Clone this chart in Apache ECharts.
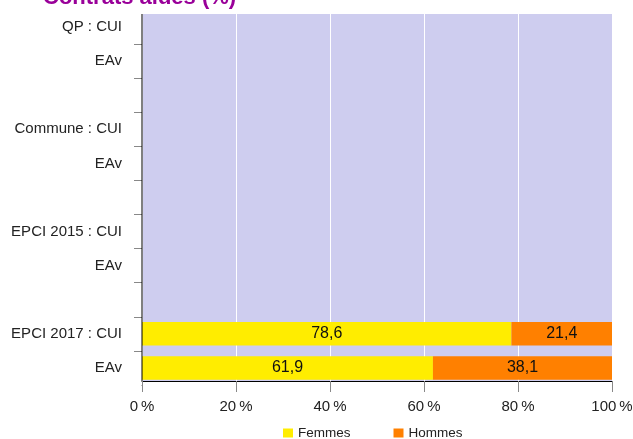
<!DOCTYPE html>
<html>
<head>
<meta charset="utf-8">
<script src="https://cdn.jsdelivr.net/npm/echarts@6/dist/echarts.min.js"></script>
<style>
  html, body { margin: 0; padding: 0; background: #fff; }
  #main { width: 633px; height: 439px; }
</style>
</head>
<body>
<div id="main"></div>
<script>
// categories top to bottom (blank rows separate the groups)
const categories = ['QP : CUI', 'EAv', '', 'Commune : CUI', 'EAv', '', 'EPCI 2015 : CUI', 'EAv', '', 'EPCI 2017 : CUI', 'EAv'];
const femmes = [null, null, null, null, null, null, null, null, null, 78.6, 61.9];
const hommes = [null, null, null, null, null, null, null, null, null, 21.4, 38.1];
const xTicks = [0, 20, 40, 60, 80, 100];

const fmt = (p) => String(p.value).replace('.', ',');
const font = 'Liberation Sans, Arial, sans-serif';

// visible plot box (the category bands overflow it a little at top and bottom)
const plot = { x: 142, y: 14, w: 470, h: 367 };

const chart = echarts.init(document.getElementById('main'), null, { renderer: 'canvas' });
chart.setOption({
  animation: false,
  textStyle: { fontFamily: font },
  title: {
    text: 'Contrats aidés (%)',
    left: 38,
    top: -18,
    textStyle: { color: '#990099', fontSize: 22, fontWeight: 'bold', fontFamily: font }
  },
  grid: { left: 142, right: 21, top: 10, bottom: 54, outerBoundsMode: 'none' },
  graphic: [
    {
      type: 'rect', z: -10, silent: true,
      shape: { x: plot.x, y: plot.y, width: plot.w, height: plot.h },
      style: { fill: '#CECDEF' }
    },
    {
      type: 'rect', z: 50, silent: true,
      shape: { x: plot.x - 0.5, y: plot.y, width: 1, height: plot.h },
      style: { fill: '#000' }
    },
    {
      // hide the band tick that falls below the visible plot
      type: 'rect', z: 50, silent: true,
      shape: { x: plot.x - 12, y: plot.y + plot.h + 1, width: 11.5, height: 6 },
      style: { fill: '#fff' }
    }
  ],
  legend: {
    top: 421,
    left: 278,
    itemWidth: 10,
    itemHeight: 9,
    itemGap: 43,
    icon: 'rect',
    textStyle: { fontSize: 13.5, color: '#222', fontFamily: font },
    data: ['Femmes', 'Hommes']
  },
  xAxis: {
    type: 'value',
    min: xTicks[0],
    max: xTicks[xTicks.length - 1],
    interval: 20,
    offset: -4,
    axisLine: { show: true, lineStyle: { color: '#000', width: 1 } },
    axisTick: { show: true, length: 11, lineStyle: { color: '#888' } },
    splitLine: { show: true, lineStyle: { color: '#fff', width: 1 } },
    axisLabel: { formatter: '{value}\u2009%', fontSize: 15, color: '#222', margin: 18, fontFamily: font }
  },
  yAxis: {
    type: 'category',
    inverse: true,
    data: categories,
    axisLine: { show: false },
    axisTick: {
      show: true, length: 8, lineStyle: { color: '#888' },
      interval: (i) => i !== 0
    },
    axisLabel: { fontSize: 15, color: '#222', margin: 20, padding: [3, 0, 0, 0], fontFamily: font }
  },
  series: [
    {
      name: 'Femmes', type: 'bar', stack: 'total', data: femmes, barWidth: 23.5,
      itemStyle: { color: '#FFED00' },
      label: { show: true, position: 'inside', color: '#111', fontSize: 16, formatter: fmt }
    },
    {
      name: 'Hommes', type: 'bar', stack: 'total', data: hommes, barWidth: 23.5,
      itemStyle: { color: '#FF8000' },
      label: { show: true, position: 'inside', color: '#111', fontSize: 16, formatter: fmt }
    }
  ]
});
</script>
</body>
</html>
